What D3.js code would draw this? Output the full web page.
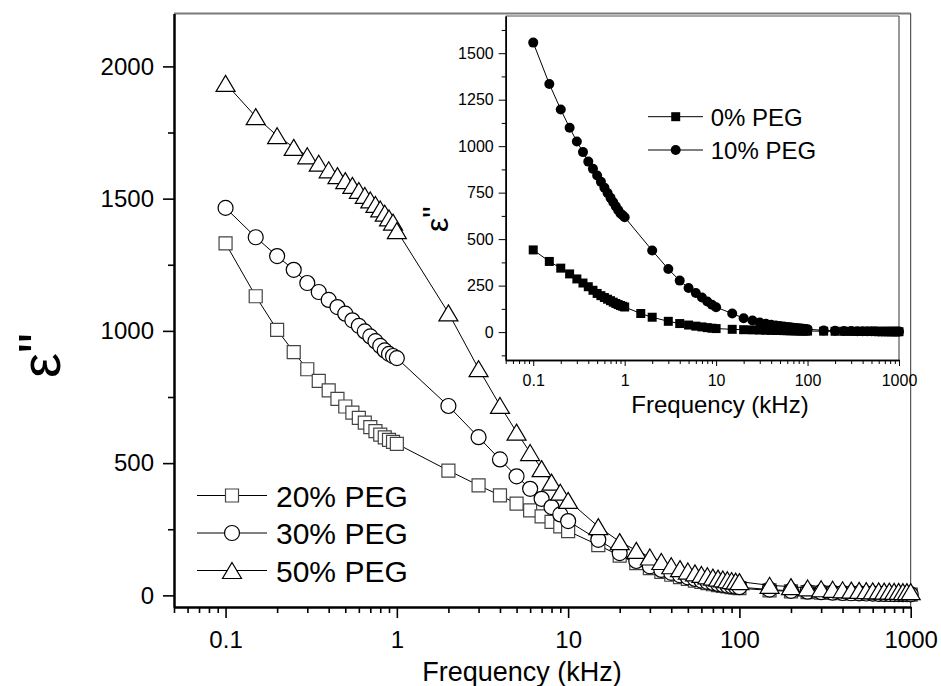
<!DOCTYPE html>
<html>
<head>
<meta charset="utf-8">
<script src="https://cdn.jsdelivr.net/npm/d3@7"></script>
<style>
  body { margin: 0; background: #fff; }
  svg { display: block; font-family: "Liberation Sans", Arial, sans-serif; }
</style>
</head>
<body>
<div id="chart"></div>
<script>
// measured frequencies (kHz)
const freq = [0.1, 0.15, 0.2, 0.25, 0.3, 0.35, 0.4, 0.45, 0.5, 0.55, 0.6, 0.65, 0.7, 0.75, 0.8, 0.85, 0.9, 0.95, 1,
  2, 3, 4, 5, 6, 7, 8, 9, 10,
  15, 20, 25, 30, 35, 40, 45, 50, 55, 60, 65, 70, 75, 80, 85, 90, 95, 100,
  150, 200, 250, 300, 350, 400, 450, 500, 550, 600, 650, 700, 750, 800, 850, 900, 950, 1000];
// the 0% PEG run also has a point at 1.5 kHz
const freqPeg0 = [0.1, 0.15, 0.2, 0.25, 0.3, 0.35, 0.4, 0.45, 0.5, 0.55, 0.6, 0.65, 0.7, 0.75, 0.8, 0.85, 0.9, 0.95, 1,
  1.5, 2, 3, 4, 5, 6, 7, 8, 9, 10,
  15, 20, 25, 30, 35, 40, 45, 50, 55, 60, 65, 70, 75, 80, 85, 90, 95, 100,
  150, 200, 250, 300, 350, 400, 450, 500, 550, 600, 650, 700, 750, 800, 850, 900, 950, 1000];

// main panel: dielectric loss
const peg20 = [1331, 1131, 1004, 920, 855, 811, 775, 743, 714, 691, 671, 653, 636, 621, 608, 597, 588, 580, 573,
  472, 416, 378, 347, 321, 299, 278, 261, 243,
  190, 150, 122, 103, 89, 78, 69, 62, 56, 51, 46, 42, 39, 36, 34, 31, 29, 27,
  19, 15, 12, 10, 9, 8, 7, 6.5, 6, 5.5, 5, 4.5, 4.2, 4, 3.8, 3.5, 3.2, 3];
const peg30 = [1465, 1354, 1283, 1231, 1181, 1147, 1117, 1090, 1065, 1040, 1019, 998, 979, 961, 943, 926, 913, 905, 897,
  716, 598, 514, 450, 403, 365, 334, 306, 281,
  210, 160, 130, 110, 96, 85, 76, 68, 62, 56, 51, 47, 43, 40, 37, 35, 33, 31,
  22, 17, 14, 12, 10, 9, 8, 7.5, 7, 6.5, 6, 5.5, 5.2, 5, 4.8, 4.5, 4.2, 4];
const peg50 = [1936, 1810, 1738, 1694, 1662, 1634, 1609, 1587, 1568, 1550, 1531, 1512, 1495, 1478, 1461, 1445, 1427, 1411, 1379,
  1068, 857, 718, 617, 540, 479, 428, 390, 359,
  260, 203, 170, 145, 128, 112, 101, 92, 85, 79, 74, 69, 65, 62, 59, 56, 54, 52,
  38, 33, 28, 25, 23, 21, 20, 19, 18, 17, 17, 16, 16, 15, 15, 14, 14, 14];

// inset panel
const peg0 = [442, 380, 344, 313, 286, 264, 244, 225, 208, 196, 186, 177, 169, 161, 154, 148, 143, 139, 135,
  100, 80, 58, 46, 38, 32, 28, 24, 21, 19,
  15, 13, 12, 11, 10, 9.5, 9, 8.5, 8, 7.6, 7.3, 7, 6.7, 6.4, 6.2, 6, 5.8, 5.6,
  5, 4.5, 4.2, 4, 3.8, 3.6, 3.4, 3.2, 3, 2.9, 2.8, 2.7, 2.6, 2.5, 2.4, 2.3, 2.2, 2.1];
const peg10 = [1557, 1334, 1197, 1099, 1025, 968, 917, 878, 842, 808, 777, 748, 722, 698, 676, 656, 638, 628, 618,
  439, 339, 277, 237, 210, 186, 165, 147, 134,
  100, 75, 62, 52, 45, 40, 36, 33, 30, 28, 26, 24, 22, 21, 20, 18, 17, 16,
  9, 7, 6, 5.5, 5, 4.7, 4.4, 4.2, 4, 3.8, 3.6, 3.5, 3.4, 3.3, 3.2, 3.1, 3, 3];

const mainLabels = ["20% PEG", "30% PEG", "50% PEG"];
const insetLabels = ["0% PEG", "10% PEG"];
const xMajor = [0.1, 1, 10, 100, 1000];
const yMainMajor = [0, 500, 1000, 1500, 2000];
const yMainMinor = [250, 750, 1250, 1750];
const yInsetMajor = [0, 250, 500, 750, 1000, 1250, 1500];
const yInsetMinor = [-125, 125, 375, 625, 875, 1125, 1375, 1625];

const W = 941, H = 686;
const svg = d3.select("#chart").append("svg")
  .attr("width", W).attr("height", H)
  .attr("viewBox", [0, 0, W, H].join(" "));

// symbol paths
const squarePath = s => `M${-s},${-s}H${s}V${s}H${-s}Z`;
const circlePath = r => d3.symbol(d3.symbolCircle, Math.PI * r * r)();
const trianglePath = (w, h) => `M0,${-h / 2}L${w / 2},${h / 2}L${-w / 2},${h / 2}Z`;

// ---------- main panel ----------
const x = d3.scaleLog().domain([0.05, 1000]).range([174, 910.7]);
const y = d3.scaleLinear().domain([-44, 2200]).range([607, 13.5]);
const xMinor = x.ticks().filter(t => !xMajor.includes(t));

const main = svg.append("g").attr("id", "main");

// frame (top and right)
main.append("line").attr("x1", x.range()[0]).attr("x2", x.range()[1]).attr("y1", 13.5).attr("y2", 13.5)
  .attr("stroke", "#7a7a7a").attr("stroke-width", 2);
main.append("line").attr("x1", 910.7).attr("x2", 910.7).attr("y1", 13.5).attr("y2", 607)
  .attr("stroke", "#333").attr("stroke-width", 1);

// axes
const gx = main.append("g").attr("transform", "translate(0,607)");
gx.call(d3.axisBottom(x).tickValues(xMinor).tickSize(6).tickSizeOuter(0).tickFormat(""));
gx.call(g => g.append("g").call(d3.axisBottom(x).tickValues(xMajor).tickSize(11).tickSizeOuter(0)
  .tickPadding(13).tickFormat(d3.format("~g"))));
const gy = main.append("g").attr("transform", "translate(174,0)");
gy.call(d3.axisLeft(y).tickValues(yMainMinor).tickSize(6).tickSizeOuter(0).tickFormat(""));
gy.call(g => g.append("g").call(d3.axisLeft(y).tickValues(yMainMajor).tickSize(11).tickSizeOuter(0)
  .tickPadding(9).tickFormat(d3.format("d"))));
[gx, gy].forEach(g => {
  g.selectAll("path.domain").attr("stroke", "#000").attr("stroke-width", 2);
  g.selectAll(".tick line").attr("stroke", "#000").attr("stroke-width", 1.6);
  g.selectAll("text").attr("font-size", 24).attr("fill", "#000")
    .attr("font-family", "'Liberation Sans', Arial, sans-serif");
});

main.append("text").attr("x", 522).attr("y", 681).attr("text-anchor", "middle")
  .attr("font-size", 27).text("Frequency (kHz)");
const yl = main.append("text").attr("transform", "translate(60,378) rotate(-90)")
  .attr("font-size", 56);
yl.append("tspan").text("ε");
yl.append("tspan").attr("dy", -3).text('"');

const line = (xs, sx, sy) => d3.line().x((d, i) => sx(xs[i])).y(d => sy(d));

const mainSeries = [
  { values: peg20, shape: squarePath(6.5), stroke: "#444" },
  { values: peg30, shape: circlePath(7.5), stroke: "#000" },
  { values: peg50, shape: trianglePath(19, 16), stroke: "#000" }
];
mainSeries.forEach(s => {
  main.append("path").attr("d", line(freq, x, y)(s.values))
    .attr("fill", "none").attr("stroke", "#000").attr("stroke-width", 1);
  main.append("g").selectAll("path").data(s.values).join("path")
    .attr("transform", (d, i) => `translate(${x(freq[i])},${y(d)})`)
    .attr("d", s.shape).attr("fill", "#fff").attr("stroke", s.stroke).attr("stroke-width", 1.2);
});

// main legend
const legMain = main.append("g");
mainSeries.forEach((s, i) => {
  const cy = 495.5 + i * 37.5;
  legMain.append("line").attr("x1", 197).attr("x2", 267).attr("y1", cy).attr("y2", cy)
    .attr("stroke", "#000").attr("stroke-width", 1);
  legMain.append("path").attr("transform", `translate(232,${cy})`).attr("d", s.shape)
    .attr("fill", "#fff").attr("stroke", s.stroke).attr("stroke-width", 1.2);
  legMain.append("text").attr("x", 276).attr("y", cy + 11).attr("font-size", 30).text(mainLabels[i]);
});

// ---------- inset ----------
const xi = d3.scaleLog().domain([0.05, 1000]).range([505.7, 899]);
const yi = d3.scaleLinear().domain([-150, 1700]).range([360, 16]);
const xiMinor = xi.ticks().filter(t => !xMajor.includes(t));

const inset = svg.append("g").attr("id", "inset");
inset.append("rect").attr("x", 505.7).attr("y", 16).attr("width", 899 - 505.7).attr("height", 344)
  .attr("fill", "#fff");
inset.append("line").attr("x1", 505.7).attr("x2", 899).attr("y1", 16).attr("y2", 16)
  .attr("stroke", "#555").attr("stroke-width", 1.2);
inset.append("line").attr("x1", 899).attr("x2", 899).attr("y1", 16).attr("y2", 360)
  .attr("stroke", "#555").attr("stroke-width", 1.2);

const gxi = inset.append("g").attr("transform", "translate(0,360)");
gxi.call(d3.axisBottom(xi).tickValues(xiMinor).tickSize(4).tickSizeOuter(0).tickFormat(""));
gxi.call(g => g.append("g").call(d3.axisBottom(xi).tickValues(xMajor).tickSize(6).tickSizeOuter(0)
  .tickPadding(9).tickFormat(d3.format("~g"))));
const gyi = inset.append("g").attr("transform", "translate(505.7,0)");
gyi.call(d3.axisLeft(yi).tickValues(yInsetMinor).tickSize(4).tickSizeOuter(0).tickFormat(""));
gyi.call(g => g.append("g").call(d3.axisLeft(yi).tickValues(yInsetMajor).tickSize(7).tickSizeOuter(0)
  .tickPadding(5).tickFormat(d3.format("d"))));
[gxi, gyi].forEach(g => {
  g.selectAll("path.domain").attr("stroke", "#000").attr("stroke-width", 1.5);
  g.selectAll(".tick line").attr("stroke", "#000").attr("stroke-width", 1);
  g.selectAll("text").attr("font-size", 16).attr("fill", "#000")
    .attr("font-family", "'Liberation Sans', Arial, sans-serif");
});

inset.append("text").attr("x", 720).attr("y", 413).attr("text-anchor", "middle")
  .attr("font-size", 24).text("Frequency (kHz)");
const yli = inset.append("text").attr("transform", "translate(448,232) rotate(-90)")
  .attr("font-size", 32);
yli.append("tspan").text("ε");
yli.append("tspan").attr("dy", -3).text('"');

const insetSeries = [
  { xs: freqPeg0, values: peg0, shape: squarePath(4.5) },
  { xs: freq, values: peg10, shape: circlePath(5) }
];
insetSeries.forEach(s => {
  inset.append("path").attr("d", line(s.xs, xi, yi)(s.values))
    .attr("fill", "none").attr("stroke", "#000").attr("stroke-width", 1);
  inset.append("g").selectAll("path").data(s.values).join("path")
    .attr("transform", (d, i) => `translate(${xi(s.xs[i])},${yi(d)})`)
    .attr("d", s.shape).attr("fill", "#000");
});

const legInset = inset.append("g");
insetSeries.forEach((s, i) => {
  const cy = 116.7 + i * 33.3;
  legInset.append("line").attr("x1", 648).attr("x2", 703).attr("y1", cy).attr("y2", cy)
    .attr("stroke", "#000").attr("stroke-width", 1);
  legInset.append("path").attr("transform", `translate(675.7,${cy})`).attr("d", s.shape).attr("fill", "#000");
  legInset.append("text").attr("x", 710.7).attr("y", cy + 9).attr("font-size", 24).text(insetLabels[i]);
});
</script>
</body>
</html>
